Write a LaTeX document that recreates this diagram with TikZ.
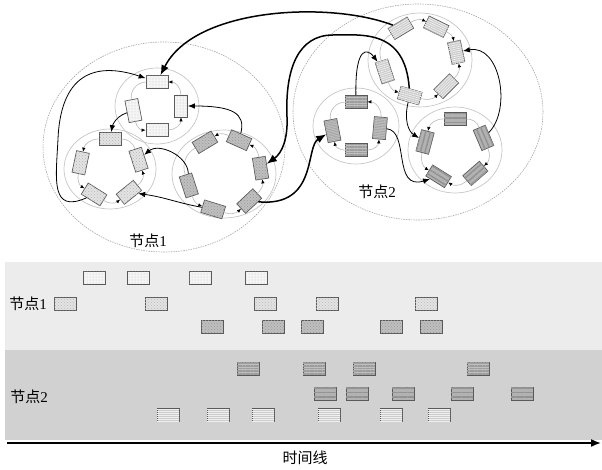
\documentclass[tikz,border=0pt]{standalone}
\usepackage{fontspec}
\setmainfont{Liberation Serif}
\newfontfamily\cjk{Noto Sans CJK SC}
\usetikzlibrary{arrows.meta,patterns,patterns.meta}
\definecolor{laneone}{gray}{0.925}
\definecolor{lanetwo}{gray}{0.82}
\definecolor{boxedge}{gray}{0.35}
\tikzset{ %
  ,>=latex
  ,every node/.style={font=\fontsize{15}{16}\selectfont}
  ,box/.style={draw=boxedge, line width=0.7pt, inner sep=0, minimum width=22pt, minimum height=13pt}
  ,dotbox/.style={box, fill=gray!8, postaction={pattern=dots, pattern color=gray!55}}
  ,chkbox/.style={box, fill=gray!22, postaction={pattern=crosshatch dots, pattern color=gray!55}}
  ,darkbox/.style={box, fill=gray!50, postaction={pattern=crosshatch dots, pattern color=gray!80}}
  ,dbox/.style={box, fill=gray!40, postaction={pattern={Lines[angle=#1, distance=2pt, line width=0.7pt]}, pattern color=gray!12}}
  ,ebox/.style={box, fill=gray!50, postaction={pattern={Lines[angle=#1, distance=1.6pt, line width=0.5pt]}, pattern color=gray!78}}
  ,fbox/.style={box, fill=gray!60, postaction={pattern={Lines[angle=#1, distance=4.5pt, line width=1.5pt]}, pattern color=gray!85}}
  ,clu/.style={draw=gray!45, line width=0.7pt}
  ,grp/.style={draw=gray!70, dash pattern=on 1.5pt off 1pt, line width=0.6pt}
  ,ring/.style={gray!55, line width=0.6pt}
  ,ringarr/.style={ring, -{Latex[length=4pt, width=3.5pt, color=black]}}
  ,bigarr/.style={line width=1.5pt, -{Latex[length=10pt, width=8pt]}}
  ,smallarr/.style={line width=0.8pt, -{Latex[length=7pt, width=5.5pt]}}
  ,axis/.style={line width=1.6pt, -{Latex[length=10pt, width=8pt]}}
}

\begin{document}
\begin{tikzpicture}[x=1pt, y=1pt]
  \useasboundingbox (0,0) rectangle (602,469);

  % the two nodes and their clusters
  \draw[grp] (164,322) ellipse (121pt and 105pt);
  \draw[grp] (418,357) ellipse (125pt and 108pt);
  \coordinate (cA) at (157,363);
  \coordinate (cB) at (110,300);
  \coordinate (cC) at (224,295);
  \coordinate (cD) at (420,409);
  \coordinate (cE) at (356,343);
  \coordinate (cF) at (455,319);
  \draw[clu] (cA) ellipse (42pt and 38pt);
  \draw[clu] (cB) ellipse (46pt and 40pt);
  \draw[clu] (cC) ellipse (52pt and 44pt);
  \draw[clu] (cD) ellipse (52pt and 47pt);
  \draw[clu] (cE) ellipse (43pt and 38pt);
  \draw[clu] (cF) ellipse (47pt and 43pt);
  \node (lbl1) at (148,228) {{\cjk 节点}1};
  \node (lbl2) at (377,277) {{\cjk 节点}2};

  \foreach \n/\a in {1/90,2/0,3/270,4/191}
    \node[dotbox, rotate=\a+90] (a\n) at ([shift={(\a:24)}]cA) {};
  \foreach \n/\a in {1/90,2/168,3/238,4/309,5/18}
    \node[chkbox, rotate=\a+90] (b\n) at ([shift={(\a:30)}]cB) {};
  \foreach \n/\a in {1/121,2/66,3/9,4/313,5/253,6/198}
    \node[darkbox, rotate=\a+90] (c\n) at ([shift={(\a:37)}]cC) {};
  % stripes run across the upright boxes (\k=90)
  \foreach \n/\a/\k in {1/121/0,2/64/0,3/12/90,4/315/0,5/254/0,6/198/90}
    \node[dbox=\a+90-\k, rotate=\a+90] (d\n) at ([shift={(\a:37)}]cD) {};
  \foreach \n/\a/\k in {1/90/0,2/355/90,3/270/0,4/191/90}
    \node[ebox=\a+90-\k, rotate=\a+90] (e\n) at ([shift={(\a:24)}]cE) {};
  \foreach \n/\a in {1/90,2/23,3/311,4/238,5/165}
    \node[fbox=\a+90, rotate=\a+90] (f\n) at ([shift={(\a:31)}]cF) {};

  % rings inside the clusters
  \foreach \s/\t/\b in {a4/a3/40,a3/a2/45,a2/a1/45,b1/b2/39,b2/b3/35,b3/b4/36,b4/b5/35,
      c6/c5/28,c5/c4/30,c4/c3/28,c3/c2/29,c2/c1/28,d4/d3/29,d5/d4/30,d6/d5/28,
      e2/e1/48,e3/e2/43,f1/f5/38,f5/f4/37}
    \draw[ringarr] (\s) to[bend right=\b] (\t);
  \foreach \s/\t/\b in {d1/d2/29,d2/d3/26,e3/e4/40,f3/f4/37,f2/f3/36}
    \draw[ringarr] (\s) to[bend left=\b] (\t);
  \draw[ring] (a1) to[bend right=50] (a4);
  \draw[ring] (b5) to[bend right=36] (b1);
  \draw[ring] (c1) to[bend right=39] (c6);
  \draw[ring] (d6) to[bend left=39] (d1);
  \draw[ring] (e4) to[bend left=50] (e1);
  \draw[ring] (f1) to[bend left=34] (f2);

  % links between clusters
  \draw[bigarr] (d1) .. controls (330,468) and (195,462) .. (a1);
  \draw[bigarr] (d5) .. controls (405,440) and (362,434) .. (333,434)
    .. controls (298,434) and (285,400) .. (287,352)
    .. controls (288,330) and (282,316) .. (c3);
  \draw[bigarr] (c4) .. controls (318,262) and (305,322) .. (e4);
  \draw[smallarr] (b3) .. controls (50,255) and (56,290) .. (58,330)
    .. controls (61,400) and (100,406) .. (a1);
  \draw[smallarr] (c2) .. controls (246,356) and (232,363) .. (a2);
  \draw[smallarr] (a4) to[out=225, in=80] (b1);
  \draw[smallarr] (c6) to[out=105, in=15] (b5);
  \draw[smallarr] (c5) to[out=175, in=-20] (b4);
  \draw[smallarr] (e1) .. controls (355,425) and (368,420) .. (d6);
  \draw[smallarr] (d5) .. controls (404,350) and (408,338) .. (f5);
  \draw[smallarr] (e2) .. controls (410,338) and (392,278) .. (f4);
  \draw[smallarr] (f2) .. controls (512,360) and (500,425) .. (d3);

  % time lanes
  \fill[laneone] (5,119) rectangle (602,207);
  \fill[lanetwo] (5,29) rectangle (602,119);
  \node (lane1) at (28,165) {{\cjk 节点}1};
  \node (lane2) at (29,72) {{\cjk 节点}2};
  \foreach \x in {94,138,200,256}
    \node[dotbox] (p1-\x) at (\x,191) {};
  \foreach \x in {65,156,265,327,426}
    \node[chkbox] (p2-\x) at (\x,165) {};
  \foreach \x in {212,273,312,391,431}
    \node[darkbox] (p3-\x) at (\x,142) {};
  \foreach \x in {248,314,364,478}
    \node[ebox=0] (q1-\x) at (\x,100) {};
  \foreach \x in {325,357,403,462,522}
    \node[fbox=0] (q2-\x) at (\x,75) {};
  \foreach \x in {168,218,263,329,391,439}
    \node[dbox=0] (q3-\x) at (\x,54) {};
  \coordinate (t0) at (7,26);
  \coordinate (t1) at (601,26);
  \draw[axis] (t0) -- (t1);
  \node (tline) at (305,11) {\cjk 时间线};
\end{tikzpicture}
\end{document}
